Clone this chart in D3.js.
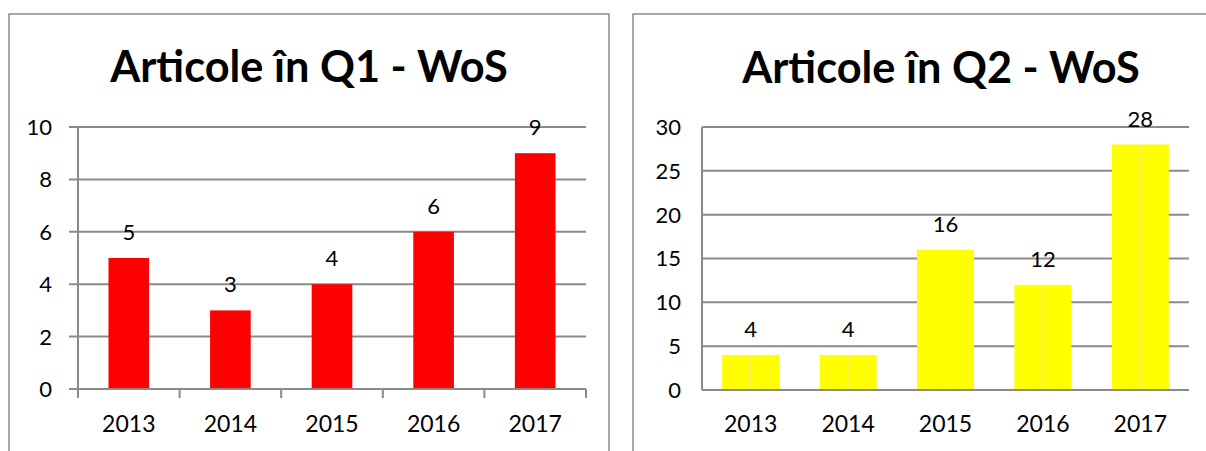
<!DOCTYPE html>
<html lang="ro">
<head>
    <meta charset="UTF-8">
    <title>Articole WoS</title>
    <script src="https://d3js.org/d3.v7.min.js"></script>
    <style>
        body {
            margin: 0;
            background: #fff;
            overflow: hidden;
        }
        text {
            font-family: Lato, "Noto Sans", sans-serif;
            fill: #000;
        }
    </style>
</head>
<body>
    <svg id="chart" width="1206" height="451"></svg>

    <script>
        // data
        const years = ["2013", "2014", "2015", "2016", "2017"];
        const q1Values = [5, 3, 4, 6, 9];
        const q2Values = [4, 4, 16, 12, 28];
        const q1Ticks = [0, 2, 4, 6, 8, 10];
        const q2Ticks = [0, 5, 10, 15, 20, 25, 30];

        const svg = d3.select("#chart");
        const gridColor = "#8a8a8a";

        function drawPanel(opts) {
            const g = svg.append("g");

            // frame of the panel
            g.append("rect")
                .attr("x", opts.frame[0])
                .attr("y", opts.frame[1])
                .attr("width", opts.frame[2])
                .attr("height", opts.frame[3])
                .attr("fill", "#fff")
                .attr("stroke", gridColor)
                .attr("stroke-width", 1.5);

            // title, sized to the width it has in the picture
            const title = g.append("text")
                .attr("x", opts.titleX)
                .attr("y", opts.titleY)
                .attr("text-anchor", "middle")
                .style("font-weight", "bold")
                .style("font-size", "43px")
                .text(opts.title);
            const w = title.node().getComputedTextLength();
            title.style("font-size", (43 * opts.titleWidth / w).toFixed(1) + "px");

            const x = d3.scaleBand()
                .domain(opts.categories)
                .range(opts.xRange);
            const y = d3.scaleLinear()
                .domain([0, d3.max(opts.ticks)])
                .range(opts.yRange);

            // gridlines
            g.append("g")
                .selectAll("line")
                .data(opts.ticks)
                .join("line")
                .attr("x1", opts.xRange[0] - opts.tickLen)
                .attr("x2", opts.xRange[1])
                .attr("y1", d => y(d))
                .attr("y2", d => y(d))
                .attr("stroke", gridColor)
                .attr("stroke-width", 2);

            // y tick labels
            g.append("g")
                .selectAll("text")
                .data(opts.ticks)
                .join("text")
                .attr("x", opts.yLabelX)
                .attr("y", d => y(d))
                .attr("dy", "0.36em")
                .attr("text-anchor", "end")
                .style("font-size", "22px")
                .text(d => d);

            // value axis line
            g.append("line")
                .attr("x1", opts.xRange[0])
                .attr("x2", opts.xRange[0])
                .attr("y1", opts.yRange[1])
                .attr("y2", opts.yRange[0] + opts.tickLen)
                .attr("stroke", gridColor)
                .attr("stroke-width", 2);

            // category tick marks between bands
            if (opts.tickLen > 0) {
                g.append("g")
                    .selectAll("line")
                    .data(opts.categories)
                    .join("line")
                    .attr("x1", d => x(d) + x.step())
                    .attr("x2", d => x(d) + x.step())
                    .attr("y1", opts.yRange[0])
                    .attr("y2", opts.yRange[0] + opts.tickLen)
                    .attr("stroke", gridColor)
                    .attr("stroke-width", 2);
            }

            // bars
            const bw = x.bandwidth() * opts.barRatio;
            g.append("g")
                .selectAll("rect")
                .data(opts.values)
                .join("rect")
                .attr("x", (d, i) => x(opts.categories[i]) + (x.bandwidth() - bw) / 2)
                .attr("y", d => y(d))
                .attr("width", bw)
                .attr("height", d => y(0) - y(d))
                .attr("fill", opts.color);

            if (opts.splitLine) {
                g.append("g")
                    .selectAll("line")
                    .data(opts.values)
                    .join("line")
                    .attr("x1", (d, i) => x(opts.categories[i]) + x.bandwidth() / 2)
                    .attr("x2", (d, i) => x(opts.categories[i]) + x.bandwidth() / 2)
                    .attr("y1", d => y(d))
                    .attr("y2", y(0))
                    .attr("stroke", opts.splitLine)
                    .attr("stroke-width", 1);
            }

            // category axis line drawn over the bars
            g.append("line")
                .attr("x1", opts.xRange[0])
                .attr("x2", opts.xRange[1])
                .attr("y1", y(0))
                .attr("y2", y(0))
                .attr("stroke", gridColor)
                .attr("stroke-width", 2);

            // value labels
            g.append("g")
                .selectAll("text")
                .data(opts.values)
                .join("text")
                .attr("x", (d, i) => x(opts.categories[i]) + x.bandwidth() / 2)
                .attr("y", d => y(d) - 18)
                .attr("text-anchor", "middle")
                .style("font-size", "22px")
                .text(d => d);

            // category labels
            g.append("g")
                .selectAll("text")
                .data(opts.categories)
                .join("text")
                .attr("x", d => x(d) + x.bandwidth() / 2)
                .attr("y", 432)
                .attr("text-anchor", "middle")
                .style("font-size", "23px")
                .text(d => d);
        }

        drawPanel({
            frame: [9, 14, 600, 470],
            title: "Articole în Q1 - WoS",
            titleX: 309,
            titleY: 82,
            titleWidth: 398,
            categories: years,
            values: q1Values,
            ticks: q1Ticks,
            xRange: [78, 586],
            yRange: [389, 127],
            yLabelX: 52,
            tickLen: 9,
            barRatio: 0.4,
            color: "#ff0000",
            splitLine: null
        });

        drawPanel({
            frame: [633, 14, 620, 470],
            title: "Articole în Q2 - WoS",
            titleX: 941,
            titleY: 83,
            titleWidth: 398,
            categories: years,
            values: q2Values,
            ticks: q2Ticks,
            xRange: [702, 1189],
            yRange: [390, 127],
            yLabelX: 681,
            tickLen: 0,
            barRatio: 0.585,
            color: "#ffff00",
            splitLine: "#f2f27a"
        });
    </script>
</body>
</html>
